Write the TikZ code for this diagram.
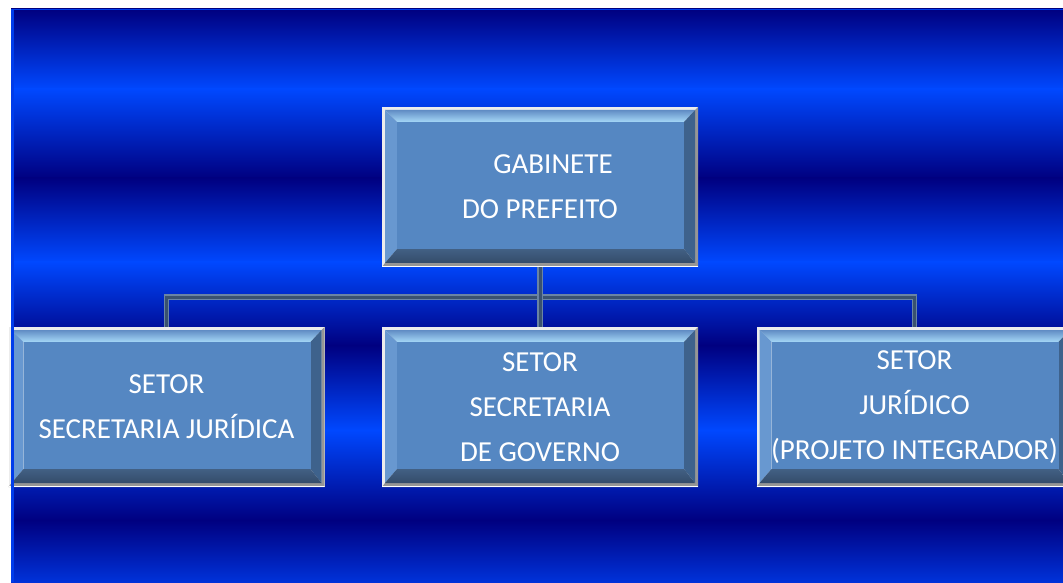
\documentclass[tikz,border=0pt]{standalone}
\usepackage{fontspec}
\setmainfont{Carlito}
\usetikzlibrary{calc}
\definecolor{bgdark}{RGB}{0,0,128}
\definecolor{bgbright}{RGB}{0,72,255}
\definecolor{bgbot}{RGB}{0,50,217}
\definecolor{bgedge}{RGB}{0,60,235}
\definecolor{frlight}{RGB}{236,236,236}
\definecolor{frgrey}{RGB}{150,150,150}
\definecolor{bevtopA}{RGB}{96,140,196}
\definecolor{bevtopB}{RGB}{166,216,247}
\definecolor{bevleft}{RGB}{104,152,208}
\definecolor{bevright}{RGB}{62,98,140}
\definecolor{bevbotA}{RGB}{66,96,132}
\definecolor{bevbotB}{RGB}{52,76,106}
\definecolor{boxface}{RGB}{85,135,194}
\definecolor{connout}{RGB}{106,132,164}
\definecolor{connin}{RGB}{58,82,112}
\newcommand\boxfont{\fontsize{29}{45}\selectfont}
\newcommand\bevelpic{%
  \coordinate (bvA) at (path picture bounding box.south west);
  \coordinate (bvB) at (path picture bounding box.north east);
  \coordinate (bvi1) at ($(bvA)+(3,4)$);
  \coordinate (bvi2) at ($(bvB)+(-3,-3)$);
  \coordinate (bvf1) at ($(bvi1)+(12,14)$);
  \coordinate (bvf2) at ($(bvi2)+(-11,-12)$);
  \fill[frgrey] (bvA) -- (bvA-|bvB) -- (bvB) -- (bvi2) -- (bvi1-|bvi2) -- (bvi1) -- cycle;
  \fill[white] (bvA) rectangle ($(bvA-|bvB)+(0,1)$);
  \shade[top color=bevtopA, bottom color=bevtopB] (bvi1|-bvi2) -- (bvi2) -- (bvf2) -- (bvf1|-bvf2) -- cycle;
  \fill[bevleft] (bvi1) -- (bvi1|-bvi2) -- (bvf1|-bvf2) -- (bvf1) -- cycle;
  \fill[bevright] (bvi2) -- (bvi2|-bvi1) -- (bvf2|-bvf1) -- (bvf2) -- cycle;
  \shade[top color=bevbotA, bottom color=bevbotB] (bvi1) -- (bvi2|-bvi1) -- (bvf2|-bvf1) -- (bvf1) -- cycle;
  \fill[boxface] (bvf1) rectangle (bvf2);
}
\begin{document}
\begin{tikzpicture}[x=1pt,y=1pt,
  bevbox/.style={rectangle, minimum width=316pt, minimum height=160pt, inner sep=0pt,
    fill=frlight, text=white, font=\boxfont, align=center, path picture={\bevelpic}},
  conn/.style={draw=connout, line width=1.4pt, double=connin, double distance=3pt},
  bgband/.style={}]
\useasboundingbox (0,0) rectangle (1063,582);
\clip (0,0) rectangle (1063,582);
\fill[white] (0,0) rectangle (1063,582);
% background bands
\fill[top color=bgdark, bottom color=bgbright] (11,492.5) rectangle (1063,573);
\fill[top color=bgbright, bottom color=bgdark] (11,403.5) rectangle (1063,493);
\fill[top color=bgdark, bottom color=bgbright] (11,319.5) rectangle (1063,404);
\fill[top color=bgbright, bottom color=bgdark] (11,236.5) rectangle (1063,320);
\fill[top color=bgdark, bottom color=bgbright] (11,151.5) rectangle (1063,237);
\fill[top color=bgbright, bottom color=bgdark] (11,61.5) rectangle (1063,152);
\fill[top color=bgdark, bottom color=bgbot] (11,0) rectangle (1063,62);
% boxes
\node[bevbox] (top) at (540,395) {\hspace*{26pt}GABINETE\\DO PREFEITO};
\node[bevbox] (left) at (166.5,175) {SETOR\\SECRETARIA JURÍDICA};
\node[bevbox] (mid) at (540,175) {SETOR\\SECRETARIA\\DE GOVERNO};
\node[bevbox] (right) at (914.5,175) {SETOR\\JURÍDICO\\(PROJETO INTEGRADOR)};
% connectors
\coordinate (junc) at ($(top.south)+(0,-30)$);
\draw[conn] (junc) -| (left.north);
\draw[conn] (junc) -| (right.north);
\draw[conn] (top.south) -- (mid.north);
% edge lines of the background
\fill[bgedge] (11,0) rectangle (13.5,573);
\fill[bgedge] (11,571.5) rectangle (1063,573);
\end{tikzpicture}
\end{document}
